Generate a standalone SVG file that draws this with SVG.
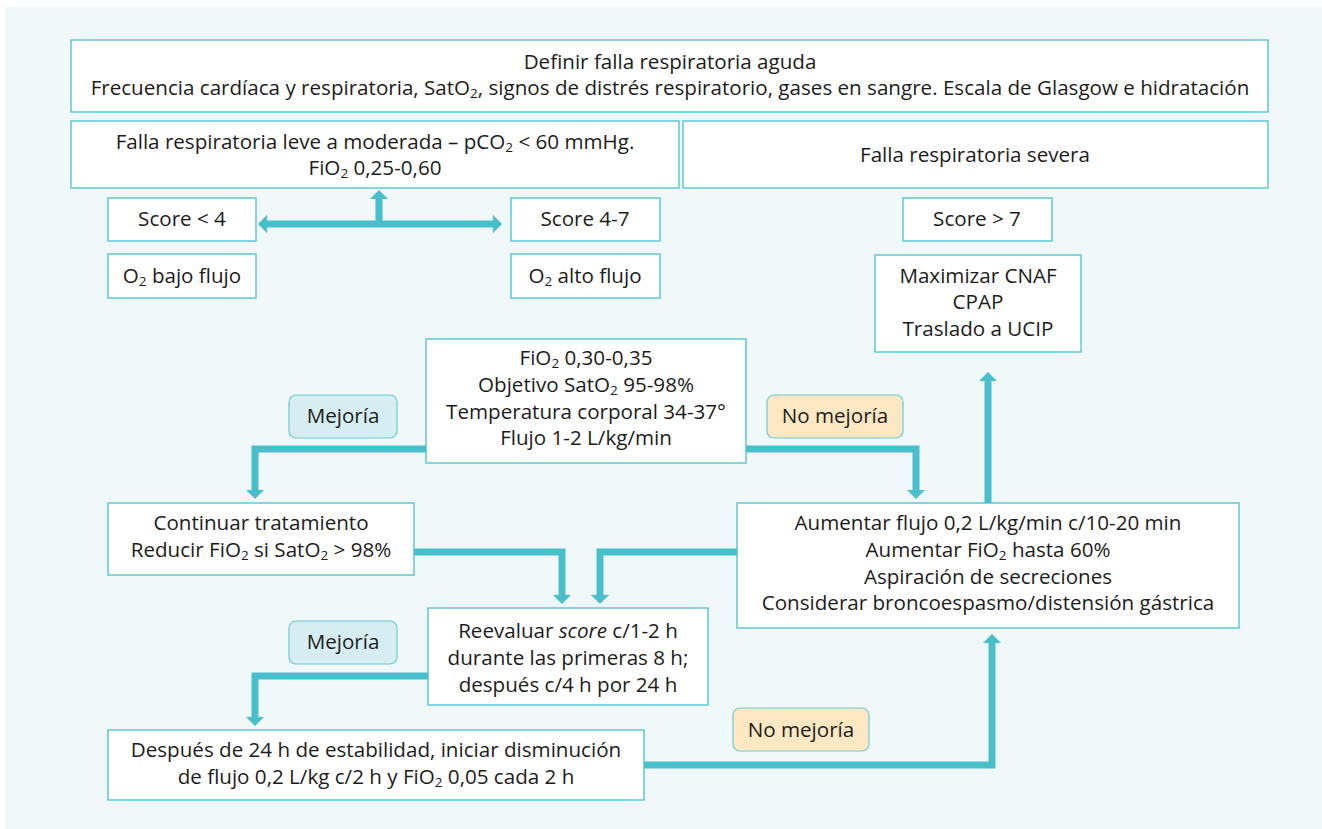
<svg xmlns="http://www.w3.org/2000/svg" width="1322" height="829" viewBox="0 0 1322 829">
<defs>
<style>
.box{fill:#ffffff;stroke:#5cc8d4;stroke-width:1.5}
.lblg{fill:#d6eef2;stroke:#6cc9d4;stroke-width:1.2}
.lbly{fill:#fde8c3;stroke:#6cc9d4;stroke-width:1.2}
text{font-family:"Open Sans","Liberation Sans",sans-serif;font-size:20.6px;fill:#1c1c1c;text-anchor:middle}
.s{font-size:13.5px}
.con{fill:none;stroke:#4abfcc;stroke-width:7}
.ah{fill:#4abfcc}
</style>
<marker id="arr" viewBox="0 0 9 18" refX="0" refY="9" markerWidth="9" markerHeight="18" orient="auto-start-reverse" markerUnits="userSpaceOnUse">
<path d="M0,0 L9,9 L0,18 z" class="ah"/>
</marker>
</defs>
<rect x="5" y="7" width="1317" height="822" fill="#f0f8fa"/>

<g id="n-top"><rect class="box" x="71" y="40" width="1197" height="72"/>
<text x="670" y="69">Definir falla respiratoria aguda</text>
<text x="670" y="95">Frecuencia cardíaca y respiratoria, SatO<tspan class="s" dy="3">2</tspan><tspan dy="-3">, signos de distrés respiratorio, gases en sangre. Escala de Glasgow e hidratación</tspan></text></g>

<g id="n-leve"><rect class="box" x="71" y="121" width="608" height="67"/>
<text x="375" y="149">Falla respiratoria leve a moderada – pCO<tspan class="s" dy="3">2</tspan><tspan dy="-3"> &lt; 60 mmHg.</tspan></text>
<text x="375" y="175">FiO<tspan class="s" dy="3">2</tspan><tspan dy="-3"> 0,25-0,60</tspan></text></g>

<g id="n-severa"><rect class="box" x="683" y="121" width="585" height="67"/>
<text x="975" y="162">Falla respiratoria severa</text></g>

<g id="n-score4"><rect class="box" x="108" y="198" width="148" height="43"/>
<text x="182" y="226">Score &lt; 4</text></g>
<g id="n-bajo"><rect class="box" x="108" y="254" width="148" height="44"/>
<text x="182" y="283">O<tspan class="s" dy="3">2</tspan><tspan dy="-3"> bajo flujo</tspan></text></g>
<g id="n-score47"><rect class="box" x="511" y="198" width="149" height="43"/>
<text x="585" y="226">Score 4-7</text></g>
<g id="n-alto"><rect class="box" x="511" y="254" width="149" height="44"/>
<text x="585" y="283">O<tspan class="s" dy="3">2</tspan><tspan dy="-3"> alto flujo</tspan></text></g>
<g id="n-score7"><rect class="box" x="903" y="198" width="149" height="43"/>
<text x="977" y="226">Score &gt; 7</text></g>
<g id="n-max"><rect class="box" x="875" y="255" width="206" height="97"/>
<text x="978" y="283">Maximizar CNAF</text>
<text x="978" y="309">CPAP</text>
<text x="978" y="336">Traslado a UCIP</text></g>

<g id="n-fio2"><rect class="box" x="426" y="339" width="320" height="124"/>
<text x="586" y="365">FiO<tspan class="s" dy="3">2</tspan><tspan dy="-3"> 0,30-0,35</tspan></text>
<text x="586" y="392">Objetivo SatO<tspan class="s" dy="3">2</tspan><tspan dy="-3"> 95-98%</tspan></text>
<text x="586" y="419">Temperatura corporal 34-37°</text>
<text x="586" y="445">Flujo 1-2 L/kg/min</text></g>

<g id="n-mej1"><rect class="lblg" x="289" y="395" width="108" height="43" rx="7"/>
<text x="343" y="423">Mejoría</text></g>
<g id="n-nomej1"><rect class="lbly" x="767" y="395" width="136" height="43" rx="7"/>
<text x="835" y="423">No mejoría</text></g>

<g id="n-cont"><rect class="box" x="108" y="503" width="306" height="72"/>
<text x="261" y="530">Continuar tratamiento</text>
<text x="261" y="557">Reducir FiO<tspan class="s" dy="3">2</tspan><tspan dy="-3"> si SatO</tspan><tspan class="s" dy="3">2</tspan><tspan dy="-3"> &gt; 98%</tspan></text></g>

<g id="n-aum"><rect class="box" x="737" y="503" width="502" height="125"/>
<text x="988" y="530">Aumentar flujo 0,2 L/kg/min c/10-20 min</text>
<text x="988" y="557">Aumentar FiO<tspan class="s" dy="3">2</tspan><tspan dy="-3"> hasta 60%</tspan></text>
<text x="988" y="584">Aspiración de secreciones</text>
<text x="988" y="610">Considerar broncoespasmo/distensión gástrica</text></g>

<g id="n-reev"><rect class="box" x="428" y="608" width="280" height="97"/>
<text x="568" y="638">Reevaluar <tspan font-style="italic">score</tspan> c/1-2 h</text>
<text x="568" y="665">durante las primeras 8 h;</text>
<text x="568" y="692">después c/4 h por 24 h</text></g>

<g id="n-mej2"><rect class="lblg" x="289" y="621" width="108" height="43" rx="7"/>
<text x="343" y="649">Mejoría</text></g>

<g id="n-desp"><rect class="box" x="108" y="730" width="536" height="70"/>
<text x="376" y="757">Después de 24 h de estabilidad, iniciar disminución</text>
<text x="376" y="784">de flujo 0,2 L/kg c/2 h y FiO<tspan class="s" dy="3">2</tspan><tspan dy="-3"> 0,05 cada 2 h</tspan></text></g>

<g id="n-nomej2"><rect class="lbly" x="733" y="708" width="136" height="43" rx="7"/>
<text x="801" y="737">No mejoría</text></g>

<g id="connectors">
<path class="con" d="M267,224 H493" marker-start="url(#arr)" marker-end="url(#arr)"/>
<path class="con" d="M379,224 V199" marker-end="url(#arr)"/>
<path class="con" d="M426,449 H255 V490" marker-end="url(#arr)"/>
<path class="con" d="M746,449 H916 V490" marker-end="url(#arr)"/>
<path class="con" d="M988,503 V381" marker-end="url(#arr)"/>
<path class="con" d="M414,552 H562 V595" marker-end="url(#arr)"/>
<path class="con" d="M737,552 H600 V595" marker-end="url(#arr)"/>
<path class="con" d="M428,676 H255 V717" marker-end="url(#arr)"/>
<path class="con" d="M644,765 H992 V643" marker-end="url(#arr)"/>
</g>
</svg>
